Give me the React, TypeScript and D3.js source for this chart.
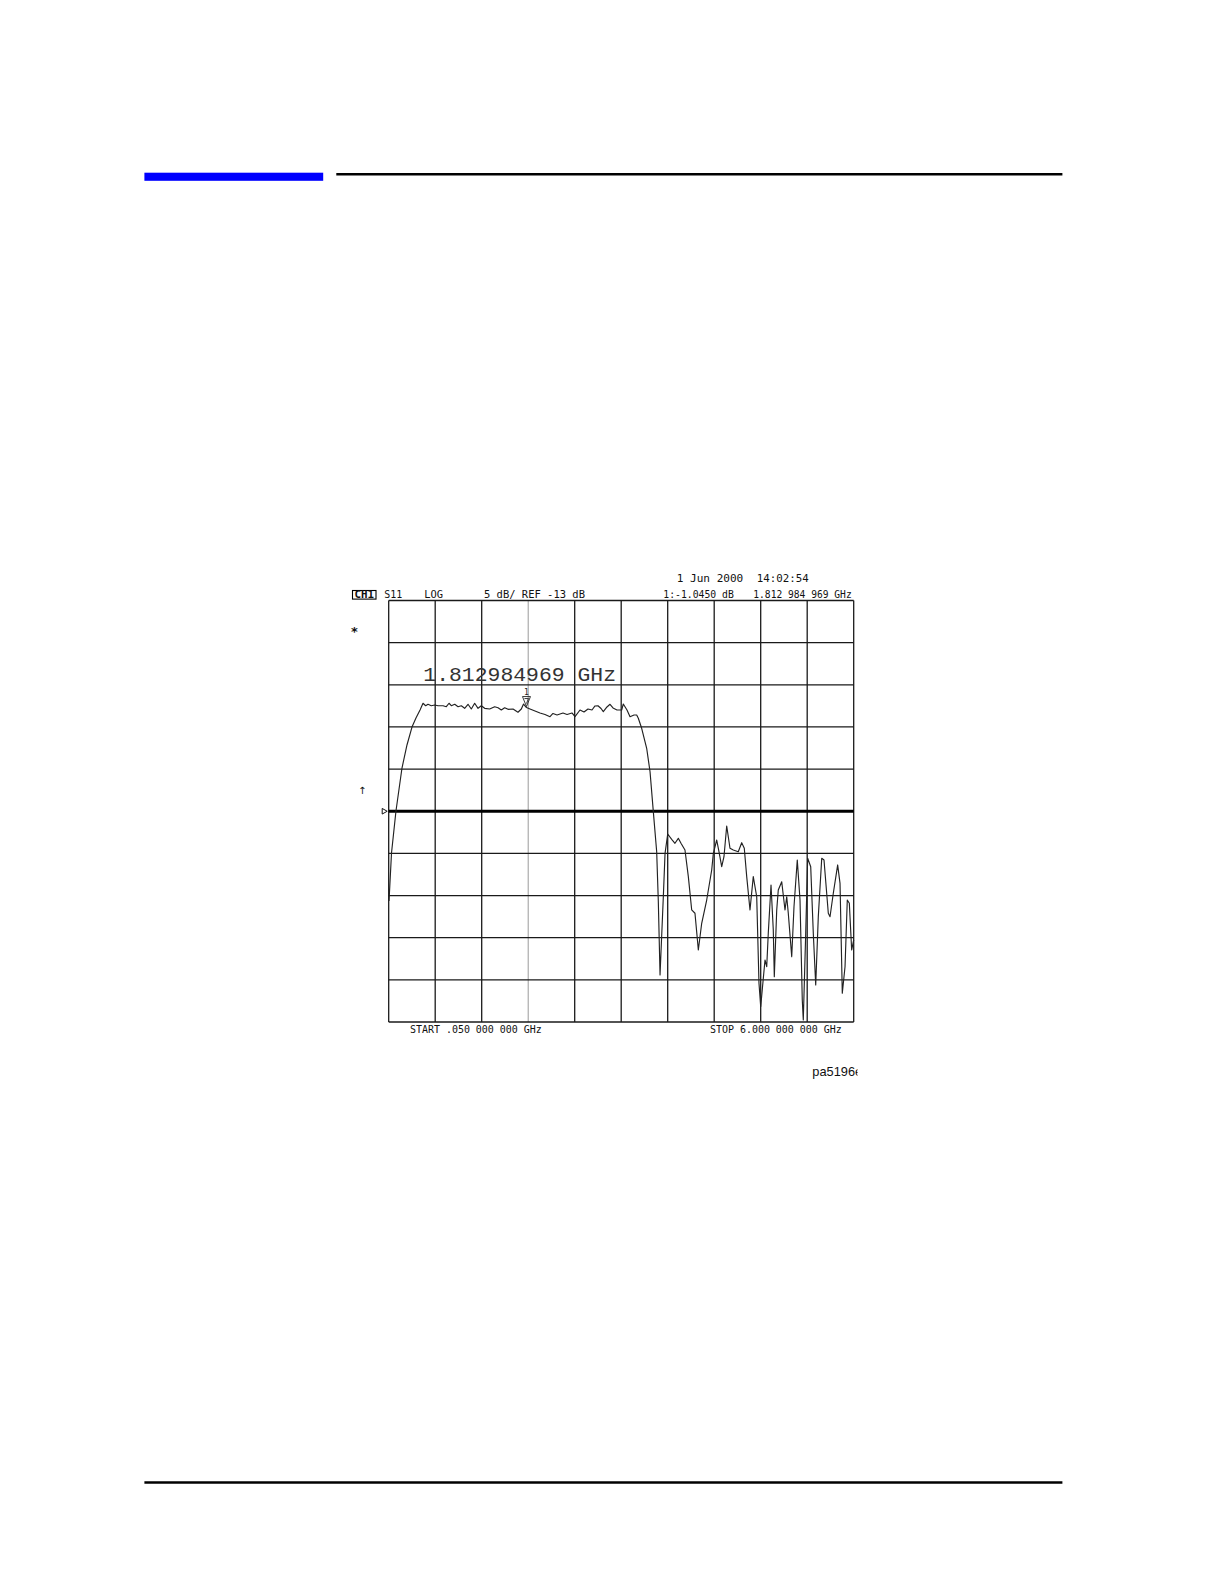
import React from "react";
import * as d3 from "d3";

// ---- Data (S11 trace, frequency in GHz, magnitude in dB) ----
const freqGHz = [
  0.054, 0.086, 0.143, 0.22, 0.284, 0.348, 0.399, 0.451, 0.489, 0.523, 0.553, 0.595, 0.639, 0.681, 0.745,
  0.787, 0.822, 0.851, 0.895, 0.937, 0.979, 1.022, 1.065, 1.107, 1.15, 1.193, 1.235, 1.278, 1.342, 1.406,
  1.449, 1.491, 1.534, 1.577, 1.641, 1.704, 1.747, 1.775, 1.813, 1.858, 1.986, 2.05, 2.114, 2.152, 2.204,
  2.28, 2.332, 2.395, 2.434, 2.498, 2.549, 2.6, 2.651, 2.69, 2.728, 2.767, 2.796, 2.843, 2.882, 2.92,
  2.971, 3.031, 3.052, 3.099, 3.138, 3.189, 3.223, 3.244, 3.287, 3.351, 3.394, 3.436, 3.479, 3.5, 3.522,
  3.564, 3.586, 3.62, 3.671, 3.713, 3.756, 3.79, 3.841, 3.884, 3.927, 3.969, 4.012, 4.055, 4.119, 4.183,
  4.204, 4.247, 4.276, 4.311, 4.34, 4.375, 4.417, 4.459, 4.523, 4.567, 4.6, 4.631, 4.673, 4.715, 4.759,
  4.788, 4.81, 4.865, 4.887, 4.907, 4.942, 4.971, 4.984, 5.015, 5.035, 5.079, 5.121, 5.143, 5.163, 5.207,
  5.236, 5.278, 5.313, 5.342, 5.355, 5.386, 5.411, 5.45, 5.483, 5.514, 5.547, 5.591, 5.62, 5.675, 5.697,
  5.739, 5.795, 5.825, 5.854, 5.889, 5.918, 5.944, 5.974, 6.0,
];
const s11dB = [
  -23.65, -17.95, -12.97, -7.87, -5.14, -3.01, -1.94, -0.99, -0.19, -0.48, -0.31, -0.48, -0.4, -0.48, -0.48,
  -0.6, -0.19, -0.48, -0.31, -0.6, -0.48, -0.79, -0.31, -0.87, -0.19, -0.79, -0.48, -0.79, -0.87, -0.6,
  -0.72, -0.99, -0.72, -0.91, -0.87, -1.26, -0.87, -0.28, -0.7, -0.87, -1.34, -1.52, -1.78, -1.4, -1.58,
  -1.34, -1.52, -1.34, -1.78, -0.99, -1.23, -0.87, -0.99, -0.51, -0.48, -0.81, -1.19, -0.63, -0.31, -0.75,
  -0.99, -0.99, -0.28, -0.99, -1.78, -1.58, -1.58, -1.97, -3.16, -5.53, -8.31, -13.05, -17.8, -23.73, -32.42,
  -23.14, -17.99, -15.7, -16.33, -16.8, -16.21, -16.8, -17.6, -20.76, -24.71, -25.1, -29.46, -26.29, -23.53, -19.97,
  -17.99, -16.41, -17.8, -19.58, -18.39, -14.75, -17.39, -17.6, -17.8, -16.73, -17.39, -20.76, -24.71, -20.76, -23.14,
  -33.41, -36.18, -30.64, -31.44, -27.48, -21.75, -27.09, -32.62, -24.71, -22.34, -21.36, -24.71, -23.14, -25.1, -30.25,
  -24.32, -18.78, -23.53, -35.39, -37.76, -27.48, -18.58, -19.58, -27.48, -33.61, -25.51, -18.58, -18.78, -25.1, -25.51,
  -22.73, -19.37, -21.55, -34.59, -31.44, -23.53, -23.92, -29.46, -28.27,
];

const startGHz = 0.05;
const stopGHz = 6.0;
const refDB = -13;
const dbPerDiv = 5;
const divisions = 10;
const markerGHz = 1.812984969;
const markerIndex = 38; // trace sample at the marker frequency

const dateLabel = ["1 Jun 2000", "14:02:54"];
const headerLabels = ["S11", "LOG", "5 dB/ REF -13 dB", "1:-1.0450 dB", "1.812 984 969 GHz"];
const channelLabel = "CH1";
const startLabel = "START .050 000 000 GHz";
const stopLabel = "STOP 6.000 000 000 GHz";
const markerReadout = "1.812984969 GHz";
const figureId = "pa5196e";

export default function App() {
  const x = d3.scaleLinear().domain([startGHz, stopGHz]).range([388.7, 853.7]);
  const topDB = refDB + (divisions / 2) * dbPerDiv;
  const botDB = refDB - (divisions / 2) * dbPerDiv;
  const y = d3.scaleLinear().domain([botDB, topDB]).range([1022, 600.5]);

  const pts = freqGHz.map((f, i) => [f, s11dB[i]] as [number, number]);
  const line = d3
    .line<[number, number]>()
    .x((d) => x(d[0]))
    .y((d) => y(d[1]));

  const vTicks = d3.range(divisions + 1).map((i) => startGHz + ((stopGHz - startGHz) * i) / divisions);
  const hTicks = d3.range(divisions + 1).map((i) => topDB - i * dbPerDiv);

  const mx = x(markerGHz);
  const my = y(s11dB[markerIndex]);

  const mono = "'DejaVu Sans Mono', 'Liberation Mono', monospace";
  const x0 = x(startGHz);
  const x1 = x(stopGHz);
  const y0 = y(topDB);
  const y1 = y(botDB);
  const yRef = y(refDB);

  return (
    <svg
      width={1224}
      height={1584}
      viewBox="0 0 1224 1584"
      style={{ position: "absolute", left: 0, top: 0, background: "#fff", display: "block" }}
    >
      <rect x={0} y={0} width={1224} height={1584} fill="#fff" />
      <defs>
        <clipPath id="idclip">
          <rect x={780} y={1050} width={77.5} height={40} />
        </clipPath>
      </defs>

      {/* Page decorations */}
      <rect x={144.4} y={172.7} width={178.8} height={8.1} fill="#0000ff" />
      <line x1={336.3} x2={1062.4} y1={174.3} y2={174.3} stroke="#000" strokeWidth={2.4} />
      <line x1={144.4} x2={1062.4} y1={1482.5} y2={1482.5} stroke="#000" strokeWidth={2.6} />

      {/* Header texts */}
      <g fontFamily={mono} fontSize={10.5} fill="#111">
        <text x={676.7} y={582} textLength={66.6} lengthAdjust="spacingAndGlyphs">{dateLabel[0]}</text>
        <text x={756.7} y={582} textLength={52} lengthAdjust="spacingAndGlyphs">{dateLabel[1]}</text>

        <rect x={352.5} y={590.5} width={23.5} height={8.6} fill="none" stroke="#000" strokeWidth={1.1} />
        <text x={354.6} y={598} textLength={19.5} lengthAdjust="spacingAndGlyphs" fontWeight="bold">{channelLabel}</text>
        <text x={384.3} y={598} textLength={18} lengthAdjust="spacingAndGlyphs">{headerLabels[0]}</text>
        <text x={424.3} y={598} textLength={18.8} lengthAdjust="spacingAndGlyphs">{headerLabels[1]}</text>
        <text x={484} y={598} textLength={101} lengthAdjust="spacingAndGlyphs">{headerLabels[2]}</text>
        <text x={663.3} y={598} textLength={70.5} lengthAdjust="spacingAndGlyphs">{headerLabels[3]}</text>
        <text x={753.3} y={598} textLength={98.4} lengthAdjust="spacingAndGlyphs">{headerLabels[4]}</text>

        <text x={410} y={1032.5} textLength={131.7} lengthAdjust="spacingAndGlyphs">{startLabel}</text>
        <text x={710} y={1032.5} textLength={131.7} lengthAdjust="spacingAndGlyphs">{stopLabel}</text>
      </g>

      {/* Grid */}
      <g>
        {vTicks.map((f, i) => (
          <line
            key={"v" + i}
            x1={x(f)}
            x2={x(f)}
            y1={y0}
            y2={y1}
            stroke={i === 3 ? "#9a9a9a" : "#1a1a1a"}
            strokeWidth={i === 3 ? 1 : 1.3}
          />
        ))}
        {hTicks.map((d, i) => (
          <line
            key={"h" + i}
            x1={x0}
            x2={x1}
            y1={y(d)}
            y2={y(d)}
            stroke="#1a1a1a"
            strokeWidth={1.3}
          />
        ))}
        <line x1={x0} x2={x1} y1={yRef} y2={yRef} stroke="#000" strokeWidth={3} />
      </g>

      {/* Left annotations */}
      <text x={351} y={636} fontFamily="'DejaVu Sans', sans-serif" fontSize={13} fontWeight="bold" fill="#111">*</text>
      <text x={358} y={794} fontFamily="'DejaVu Sans', sans-serif" fontSize={10} fill="#111">↑</text>
      <path
        d={`M${x0 - 6.5},${yRef - 2.8} L${x0 - 1.5},${yRef} L${x0 - 6.5},${yRef + 2.8} Z`}
        fill="none"
        stroke="#111"
        strokeWidth={1}
      />

      {/* Marker readout (large) */}
      <text
        x={423.3}
        y={680.5}
        fontFamily="'Liberation Mono', monospace"
        fontSize={21}
        fill="#333"
        textLength={192.7}
        lengthAdjust="spacingAndGlyphs"
      >
        {markerReadout}
      </text>

      {/* Trace */}
      <path d={line(pts) || ""} fill="none" stroke="#222" strokeWidth={1.15} strokeLinejoin="round" />

      {/* Marker symbol */}
      <g stroke="#222" strokeWidth={0.9} fill="none">
        <path d={`M${mx - 4},${my - 11} L${mx + 4},${my - 11} L${mx},${my - 1} Z`} />
        <path d={`M${mx - 2},${my - 9} L${mx + 2},${my - 9} L${mx},${my - 4}`} />
      </g>
      <text x={mx} y={my - 12.5} fontFamily={mono} fontSize={8} textAnchor="middle" fill="#222">1</text>

      {/* Figure id, clipped */}
      <text
        x={812.3}
        y={1075.7}
        fontFamily="'Liberation Sans', Arial, sans-serif"
        fontSize={12.8}
        fill="#111"
        clipPath="url(#idclip)"
      >
        {figureId}
      </text>
    </svg>
  );
}
